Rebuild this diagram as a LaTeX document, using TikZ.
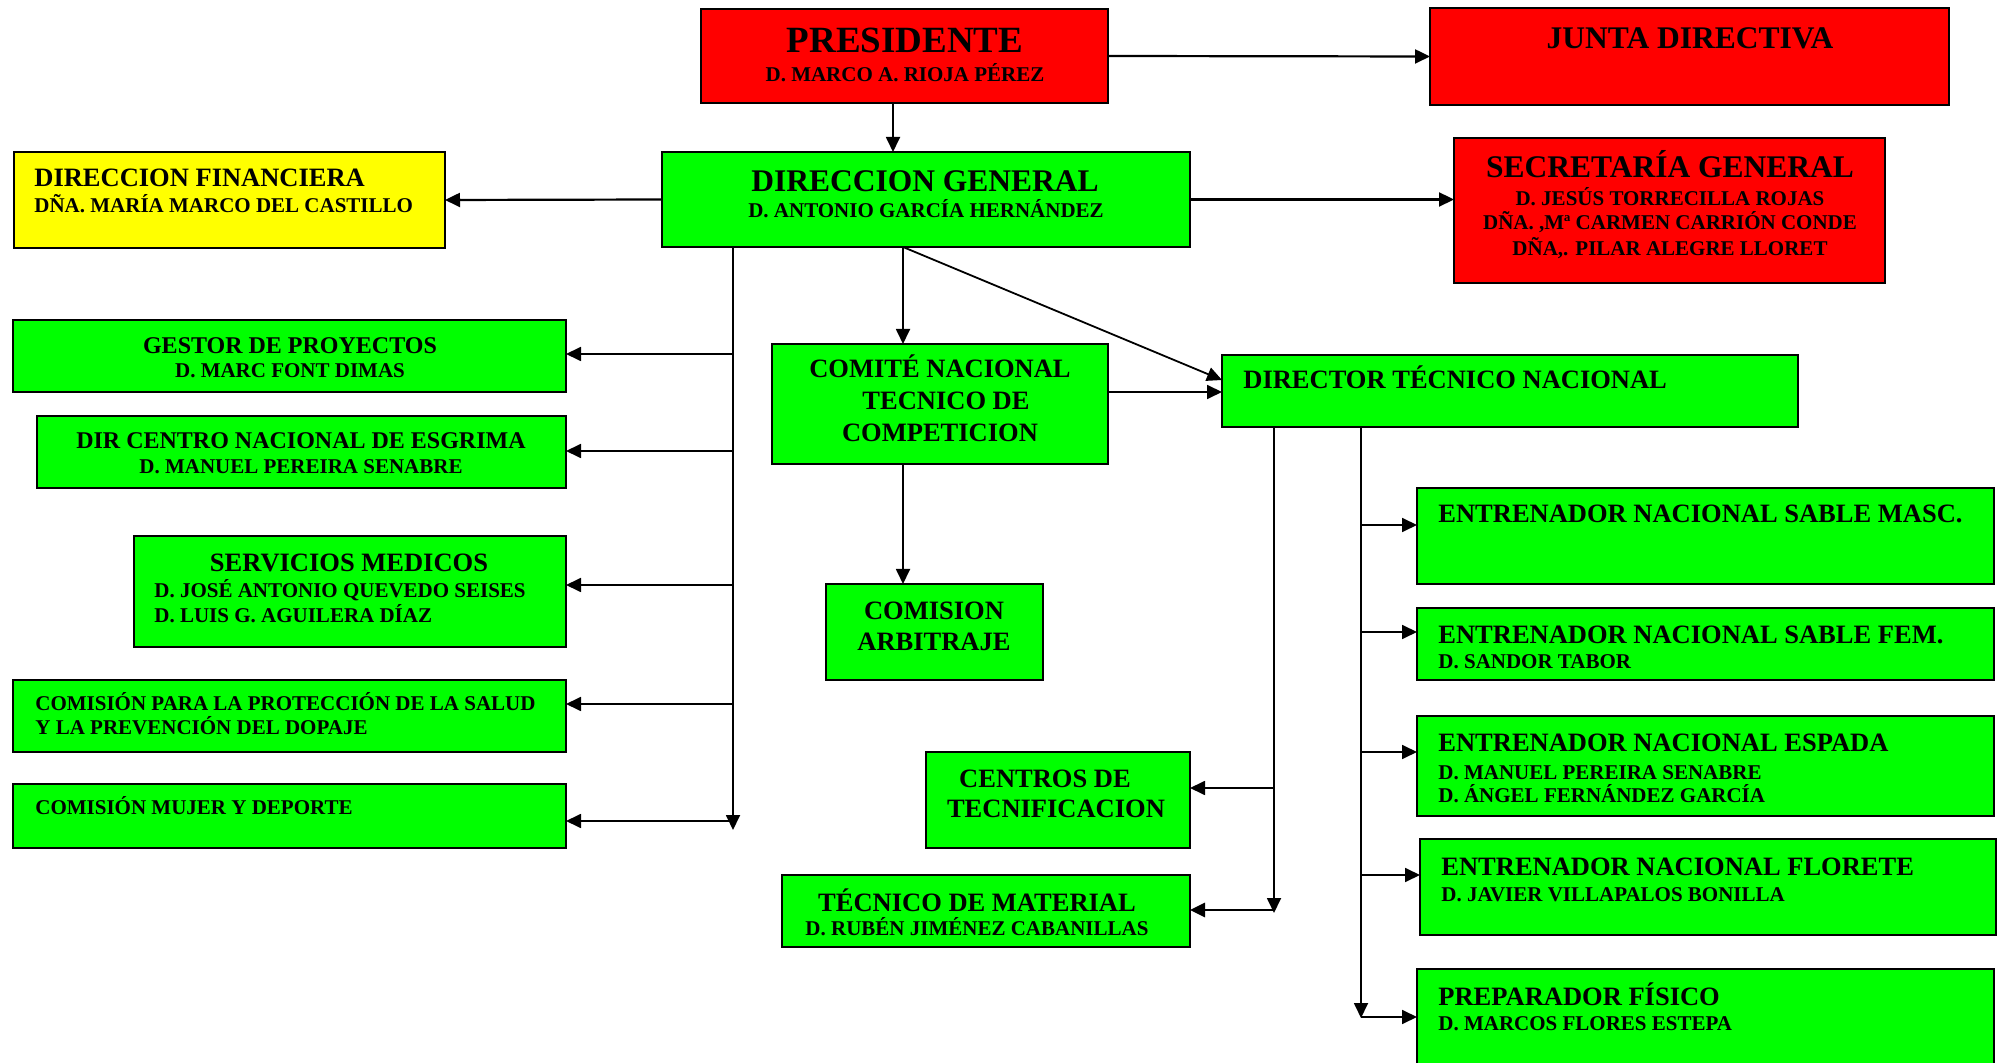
\documentclass[tikz,border=0pt]{standalone}
\usepackage{fontspec}
\setmainfont{Liberation Serif}
\usetikzlibrary{arrows.meta,fit}
\newcommand\Fsz[1]{\fontsize{#1pt}{#1pt}\selectfont\bfseries}
\definecolor{cred}{RGB}{255,0,0}
\definecolor{cgreen}{RGB}{0,255,0}
\definecolor{cyellow}{RGB}{255,255,0}
\begin{document}
\begin{tikzpicture}[x=0.5pt,y=-0.5pt,
  box/.style={draw=black, line width=1.1pt, inner sep=0pt, outer sep=0pt},
  rbox/.style={box, fill=cred},
  gbox/.style={box, fill=cgreen},
  ybox/.style={box, fill=cyellow},
  conn/.style={line width=0.9pt},
  arr/.style={conn, -{Triangle[length=7.5pt,width=7pt]}},
  tc/.style={inner sep=0pt, anchor=base},
  tl/.style={inner sep=0pt, anchor=base west},
  big/.style={font=\Fsz{15.75}},
  hdr/.style={font=\Fsz{13.25}},
  mhdr/.style={font=\Fsz{12}},
  nm/.style={font=\Fsz{10.5}},
]
\useasboundingbox (0,0) rectangle (2009,1063);

% ---------- boxes ----------
\node[rbox, fit={(701,9) (1108,103)}] (pres) {};
\node[rbox, fit={(1430,8) (1949,105)}] (junta) {};
\node[ybox, fit={(14,152) (445,248)}] (df) {};
\node[gbox, fit={(662,152) (1190,247)}] (dg) {};
\node[rbox, fit={(1454,138) (1885,283)}] (sec) {};
\node[gbox, fit={(13,320) (566,392)}] (gestor) {};
\node[gbox, fit={(37,416) (566,488)}] (dircen) {};
\node[gbox, fit={(134,536) (566,647)}] (serv) {};
\node[gbox, fit={(13,680) (566,752)}] (salud) {};
\node[gbox, fit={(13,784) (566,848)}] (mujer) {};
\node[gbox, fit={(772,344) (1108,464)}] (comite) {};
\node[gbox, fit={(826,584) (1043,680)}] (arb) {};
\node[gbox, fit={(1222,355) (1798,427)}] (dir) {};
\node[gbox, fit={(926,752) (1190,848)}] (centros) {};
\node[gbox, fit={(782,875) (1190,947)}] (material) {};
\node[gbox, fit={(1417,488) (1994,584)}] (masc) {};
\node[gbox, fit={(1417,608) (1994,680)}] (fem) {};
\node[gbox, fit={(1417,716) (1994,816)}] (espada) {};
\node[gbox, fit={(1420,839) (1996,935)}] (florete) {};
\node[gbox, fit={(1417,969) (1994,1085)}] (prep) {};

% ---------- texts ----------
\node[tc, font=\Fsz{18.5}] (t1) at (905,53) {PRESIDENTE};
\node[tc, nm] (t2) at (905,82) {D. MARCO A. RIOJA PÉREZ};
\node[tc, big] (t3) at (1690,49) {JUNTA DIRECTIVA};
\node[tl, hdr] (t4) at (34,187) {DIRECCION FINANCIERA};
\node[tl, nm] (t5) at (34,213) {DÑA. MARÍA MARCO DEL CASTILLO};
\node[tc, big] (t6) at (925,192) {DIRECCION GENERAL};
\node[tc, nm] (t7) at (926,218) {D. ANTONIO GARCÍA HERNÁNDEZ};
\node[tc, big] (t8) at (1670,178) {SECRETARÍA GENERAL};
\node[tc, nm] (t9) at (1670,206) {D. JESÚS TORRECILLA ROJAS};
\node[tc, nm] (t10) at (1670,230) {DÑA. ,Mª CARMEN CARRIÓN CONDE};
\node[tc, nm] (t11) at (1670,256) {DÑA,. PILAR ALEGRE LLORET};
\node[tc, mhdr] (t12) at (290,354) {GESTOR DE PROYECTOS};
\node[tc, nm] (t13) at (290,378) {D. MARC FONT DIMAS};
\node[tc, mhdr] (t14) at (301,449) {DIR CENTRO NACIONAL DE ESGRIMA};
\node[tc, nm] (t15) at (301,474) {D. MANUEL PEREIRA SENABRE};
\node[tc, hdr] (t16) at (349,572) {SERVICIOS MEDICOS};
\node[tl, nm] (t17) at (154,598) {D. JOSÉ ANTONIO QUEVEDO SEISES};
\node[tl, nm] (t18) at (154,623) {D. LUIS G. AGUILERA DÍAZ};
\node[tl, nm] (t19) at (35,711) {COMISIÓN PARA LA PROTECCIÓN DE LA SALUD};
\node[tl, nm] (t20) at (35,735) {Y LA PREVENCIÓN DEL DOPAJE};
\node[tl, nm] (t21) at (35,814) {COMISIÓN MUJER Y DEPORTE};
\node[tc, hdr] (t22) at (940,378) {COMITÉ NACIONAL};
\node[tc, hdr] (t23) at (946,410) {TECNICO DE};
\node[tc, hdr] (t24) at (940,442) {COMPETICION};
\node[tc, hdr] (t25) at (934,620) {COMISION};
\node[tc, hdr] (t26) at (934,651) {ARBITRAJE};
\node[tl, hdr] (t27) at (1243,389) {DIRECTOR TÉCNICO NACIONAL};
\node[tc, hdr] (t28) at (1045,787) {CENTROS DE};
\node[tc, hdr] (t29) at (1056,818) {TECNIFICACION};
\node[tc, hdr] (t30) at (977,911) {TÉCNICO DE MATERIAL};
\node[tc, nm] (t31) at (977,935) {D. RUBÉN JIMÉNEZ CABANILLAS};
\node[tl, hdr] (t32) at (1438,523) {ENTRENADOR NACIONAL SABLE MASC.};
\node[tl, hdr] (t33) at (1438,644) {ENTRENADOR NACIONAL SABLE FEM.};
\node[tl, nm] (t34) at (1438,669) {D. SANDOR TABOR};
\node[tl, hdr] (t35) at (1438,752) {ENTRENADOR NACIONAL ESPADA};
\node[tl, nm] (t36) at (1438,779) {D. MANUEL PEREIRA SENABRE};
\node[tl, nm] (t37) at (1438,802) {D. ÁNGEL FERNÁNDEZ GARCÍA};
\node[tl, hdr] (t38) at (1441,875) {ENTRENADOR NACIONAL FLORETE};
\node[tl, nm] (t39) at (1441,901) {D. JAVIER VILLAPALOS BONILLA};
\node[tl, hdr] (t40) at (1438,1005) {PREPARADOR FÍSICO};
\node[tl, nm] (t41) at (1438,1030) {D. MARCOS FLORES ESTEPA};

% ---------- helper coordinates ----------
\coordinate (xP) at (893,0);
\coordinate (tL) at (733,0);
\coordinate (tLend) at (733,830);
\coordinate (bl1) at (733,354);
\coordinate (bl2) at (733,451);
\coordinate (bl3) at (733,585);
\coordinate (bl4) at (733,704);
\coordinate (bl5) at (733,821);
\coordinate (xC) at (903,0);
\coordinate (dend) at (1222,380);
\coordinate (yCD) at (0,392);
\coordinate (tA) at (1274,0);
\coordinate (tAend) at (1274,913);
\coordinate (ba1) at (1274,788);
\coordinate (ba2) at (1274,910);
\coordinate (tB) at (1361,0);
\coordinate (tBend) at (1361,1018);
\coordinate (bb1) at (1361,525);
\coordinate (bb2) at (1361,632);
\coordinate (bb3) at (1361,752);
\coordinate (bb4) at (1361,875);
\coordinate (bb5) at (1361,1017);

% ---------- connectors ----------
\draw[arr, line width=1.1pt] (pres.east) -- (junta.west);
\draw[arr] (pres.south -| xP) -- (dg.north -| xP);
\draw[arr, line width=1.1pt] (dg.west) -- (df.east);
\draw[arr, line width=1.1pt] (dg.east) -- (dg.east -| sec.west);

\draw[arr] (dg.south -| tL) -- (tLend);
\draw[arr] (bl1) -- (bl1 -| gestor.east);
\draw[arr] (bl2) -- (bl2 -| dircen.east);
\draw[arr] (bl3) -- (bl3 -| serv.east);
\draw[arr] (bl4) -- (bl4 -| salud.east);
\draw[arr] (bl5) -- (bl5 -| mujer.east);

\draw[arr] (dg.south -| xC) -- (comite.north -| xC);
\draw[arr] (dg.south -| xC) -- (dend);
\draw[arr] (comite.east |- yCD) -- (dir.west |- yCD);
\draw[arr] (comite.south -| xC) -- (arb.north -| xC);

\draw[arr] (dir.south -| tA) -- (tAend);
\draw[arr] (ba1) -- (ba1 -| centros.east);
\draw[arr, line width=1.4pt] (ba2) -- (ba2 -| material.east);

\draw[arr] (dir.south -| tB) -- (tBend);
\draw[arr] (bb1) -- (bb1 -| masc.west);
\draw[arr] (bb2) -- (bb2 -| fem.west);
\draw[arr] (bb3) -- (bb3 -| espada.west);
\draw[arr] (bb4) -- (bb4 -| florete.west);
\draw[arr] (bb5) -- (bb5 -| prep.west);
\end{tikzpicture}
\end{document}
